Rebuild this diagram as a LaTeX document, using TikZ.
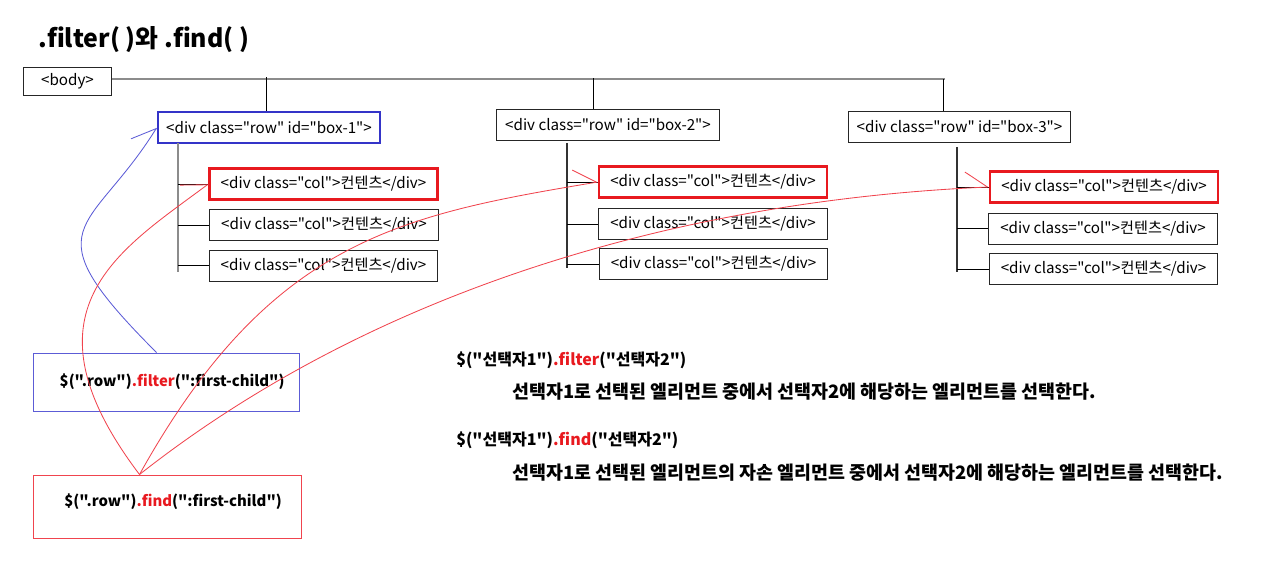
\documentclass[tikz,border=0pt]{standalone}
\usepackage{fontspec}
\setmainfont{Noto Sans CJK KR}[Ligatures=TeXOff]
\usetikzlibrary{arrows.meta,calc}
\definecolor{selred}{HTML}{E8191F}
\definecolor{rowblue}{HTML}{3434C8}
\definecolor{linkred}{HTML}{F0444E}
\definecolor{linkblue}{HTML}{5C5CD6}

\begin{document}
\begin{tikzpicture}[x=0.025cm,y=-0.025cm,
  tag/.style={draw=black!85,line width=0.7pt,inner sep=0pt,font=\fontsize{10.8}{12}\selectfont},
  rowbox/.style={tag,minimum width=5.55cm,minimum height=0.775cm},
  colbox/.style={tag,minimum width=5.7cm,minimum height=0.775cm},
  picked/.style={draw=selred,line width=1.6pt},
  trunk/.style={draw=black!45,line width=1.3pt},
  twig/.style={draw=black,line width=0.6pt},
  codebox/.style={line width=0.7pt,inner sep=0pt,font=\bfseries\fontsize{10.6}{13}\selectfont},
  note/.style={anchor=west,inner sep=0pt,font=\bfseries\fontsize{13.1}{15}\selectfont},
  call/.style={anchor=west,inner sep=0pt,font=\bfseries\fontsize{11.4}{14}\selectfont},
  link/.style={line width=0.6pt,-{Straight Barb[harpoon,length=0.55cm,width=0.8cm]}}]
\useasboundingbox (0,0) rectangle (1280,576);

% A) heading
\node[anchor=west,inner sep=0pt,font=\bfseries\fontsize{17.7}{20}\selectfont] (title) at (38,40) {.filter( )와 .find( )};

% B) DOM tree
\node[tag,minimum width=2.175cm,minimum height=0.675cm] (body) at (67.5,81.5) {<body>};
\node[rowbox,draw=rowblue,line width=1.6pt] (rowA) at (269,127.5) {<div class="row" id="box-1">};
\node[rowbox] (rowB) at (608,125) {<div class="row" id="box-2">};
\node[rowbox] (rowC) at (959.5,127) {<div class="row" id="box-3">};
\coordinate (end) at (945,79);
\draw[trunk] (body.east |- end) -- (end);
\draw[twig] (rowA.north) ++(-3,0) -- ++(0,-34);
\draw[twig] ($(rowB.north)+(-15,0)$) -- ($(rowB.north)+(-15,-31)$);
\draw[twig] ($(end)+(-2,0)$) -- ($(rowC.north)+(-16.5,0)$);

\node[colbox,picked] (colA1) at (323.5,184) {<div class="col">컨텐츠</div>};
\node[colbox] (colA2) at (324,225) {<div class="col">컨텐츠</div>};
\node[colbox] (colA3) at (323.5,265.5) {<div class="col">컨텐츠</div>};
\node[colbox,picked] (colB1) at (713,182) {<div class="col">컨텐츠</div>};
\node[colbox] (colB2) at (713,224) {<div class="col">컨텐츠</div>};
\node[colbox] (colB3) at (713.5,264) {<div class="col">컨텐츠</div>};
\node[colbox,picked] (colC1) at (1104,187) {<div class="col">컨텐츠</div>};
\node[colbox] (colC2) at (1103,228.5) {<div class="col">컨텐츠</div>};
\node[colbox] (colC3) at (1103.5,269) {<div class="col">컨텐츠</div>};

\coordinate (spineA) at (178,143); \coordinate (spineB) at (567,143); \coordinate (spineC) at (957,147);
\draw[trunk] (spineA) -- (178,272);
\draw[trunk,draw=black!80,line width=0.8pt] (spineB) -- (567,268);
\draw[trunk,draw=black!80,line width=0.8pt] (spineC) -- (957,272);
\foreach \r in {A,B,C}{
  \foreach \i in {1,2,3}
    \draw[twig] (col\r\i.west -| spine\r) -- (col\r\i.west);
}

% C) the two calls
\node[codebox,draw=linkblue,minimum width=6.625cm,minimum height=1.45cm] (filter) at (166.5,382)
  {\hspace{8pt}\$(".row")\textcolor{selred}{.filter}(":first-child")};
\node[codebox,draw=linkred,minimum width=6.675cm,minimum height=1.575cm] (find) at (167.5,506.5)
  {\hspace{8pt}\raisebox{9pt}{\$(".row")\textcolor{selred}{.find}(":first-child")}};

% D) explanation
\node[call] (sel1) at (456,360) {\$("선택자1")\textcolor{selred}{.filter}("선택자2")};
\node[note] (desc1) at (512,392) {선택자1로 선택된 엘리먼트 중에서 선택자2에 해당하는 엘리먼트를 선택한다.};
\node[call] (sel2) at (456,440) {\$("선택자1")\textcolor{selred}{.find}("선택자2")};
\node[note] (desc2) at (512,473) {선택자1로 선택된 엘리먼트의 자손 엘리먼트 중에서 선택자2에 해당하는 엘리먼트를 선택한다.};

% E) what each call selects
\draw[link,linkblue] ($(filter.north)+(-10,0)$) .. controls (27,223) and (90,235) .. (rowA.west);
\coordinate (fork) at ($(find.north)+(-28,0)$);
\draw[link,linkred] (fork) .. controls (15,310) and (120,250) .. (colA1.west);
\draw[link,linkred] (fork) .. controls (270,240) and (400,215) .. (colB1.west);
\draw[link,linkred] (fork) .. controls (380,285) and (690,200) .. (colC1.west);
\end{tikzpicture}
\end{document}
